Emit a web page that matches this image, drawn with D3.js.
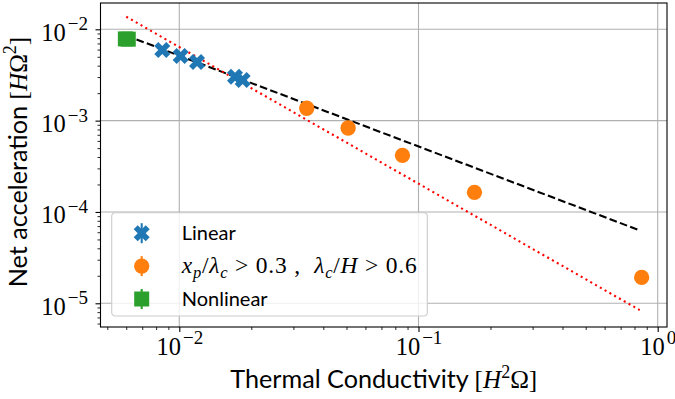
<!DOCTYPE html>
<html>
<head>
<meta charset="utf-8">
<script src="https://cdn.jsdelivr.net/npm/d3@7"></script>
<style>
  body { margin: 0; background: #fff; }
  svg { display: block; }
  .tick-label { font-family: 'Liberation Serif', serif; font-size: 24.5px; fill: #000; }
  .sans { font-family: Lato, 'Open Sans', sans-serif; }
  .rm { font-family: 'Liberation Serif', serif; }
  .it { font-family: 'Liberation Serif', serif; font-style: italic; }
  .axis-label { font-size: 25.2px; fill: #000; }
  .legend-text { font-size: 20px; fill: #000; }
  .legend-math { font-size: 23.5px; fill: #000; }
</style>
</head>
<body>
<div id="chart-area"><svg></svg></div>
<script>
const chartSize = {width: 675, height: 399};
const margin = {left: 100.5, right: 8, top: 3, bottom: 72};
const width = chartSize.width - margin.left - margin.right;
const height = chartSize.height - margin.top - margin.bottom;

// thermal conductivity [H^2 Omega] vs net acceleration [H Omega^2]
const linearK = [0.00849, 0.01013, 0.01186, 0.0171, 0.0184];
const linearAcc = [0.00593, 0.0051, 0.00439, 0.00303, 0.00279];
const criterionK = [0.0341, 0.0508, 0.0857, 0.1714, 0.857];
const criterionAcc = [0.001365, 0.00083, 0.000417, 0.000164, 0.0000192];
const nonlinearK = [0.00595, 0.00612];
const nonlinearAcc = [0.00785, 0.0078];

// fitted power laws (end points)
const fitK = [0.006, 0.833];
const fitAcc = [0.00855, 0.0000634];
const steepK = [0.006, 0.841];
const steepAcc = [0.01374, 0.00000843];

const xDomain = [0.004684, 1.0937];
const yDomain = [0.0000055, 0.01941];
const xTickPowers = [-2, -1, 0];
const yTickPowers = [-5, -4, -3, -2];

const colors = {linear: '#1f77b4', criterion: '#ff7f0e', nonlinear: '#2ca02c'};

const minorTicks = (domain) => {
  const ticks = [];
  for (let p = Math.floor(Math.log10(domain[0])); p <= Math.ceil(Math.log10(domain[1])); p++) {
    for (let k = 2; k <= 9; k++) {
      const v = k * Math.pow(10, p);
      if (v >= domain[0] && v <= domain[1]) ticks.push(v);
    }
  }
  return ticks;
};

const appendParts = (text, parts) => {
  let shift = 0;
  parts.forEach(([str, cls, offset = 0, size]) => {
    const span = text.append('tspan').attr('class', cls).attr('dy', offset - shift).text(str);
    if (size) span.style('font-size', size + 'px');
    shift = offset;
  });
};

const xMarker = d3.symbol().type(d3.symbolCross).size(160);
const circleMarker = d3.symbol().type(d3.symbolCircle).size(185);
const squareMarker = d3.symbol().type(d3.symbolSquare).size(225);

const drawChart = () => {
  const svg = d3.select('#chart-area svg')
      .attr('width', chartSize.width)
      .attr('height', chartSize.height);

  const x = d3.scaleLog().domain(xDomain).range([0, width]);
  const y = d3.scaleLog().domain(yDomain).range([height, 0]);

  const g = svg.append('g')
      .attr('transform', `translate(${margin.left},${margin.top})`);

  const xMajors = xTickPowers.map(p => Math.pow(10, p));
  const yMajors = yTickPowers.map(p => Math.pow(10, p));

  // grid
  g.append('g').selectAll('line')
      .data(xMajors)
      .join('line')
      .attr('x1', d => x(d)).attr('x2', d => x(d))
      .attr('y1', 0).attr('y2', height)
      .attr('stroke', '#b0b0b0').attr('stroke-width', 1.1);

  g.append('g').selectAll('line')
      .data(yMajors)
      .join('line')
      .attr('y1', d => y(d)).attr('y2', d => y(d))
      .attr('x1', 0).attr('x2', width)
      .attr('stroke', '#b0b0b0').attr('stroke-width', 1.1);

  // axes
  const xMajorAxis = d3.axisBottom(x).tickValues(xMajors).tickSize(5).tickSizeOuter(0);
  const xMinorAxis = d3.axisBottom(x).tickValues(minorTicks(xDomain)).tickSize(3).tickSizeOuter(0).tickFormat('');
  const yMajorAxis = d3.axisLeft(y).tickValues(yMajors).tickSize(5).tickSizeOuter(0);
  const yMinorAxis = d3.axisLeft(y).tickValues(minorTicks(yDomain)).tickSize(3).tickSizeOuter(0).tickFormat('');

  const gx = g.append('g').attr('transform', `translate(0,${height})`);
  gx.append('g').call(xMinorAxis).selectAll('line').attr('stroke-width', 0.85);
  gx.append('g').attr('class', 'x-major').call(xMajorAxis).selectAll('line').attr('stroke-width', 1.1);

  const gy = g.append('g');
  gy.append('g').call(yMinorAxis).selectAll('line').attr('stroke-width', 0.85);
  gy.append('g').attr('class', 'y-major').call(yMajorAxis).selectAll('line').attr('stroke-width', 1.1);

  g.selectAll('.domain').remove();

  const powerLabel = function (d) {
    const text = d3.select(this).attr('class', 'tick-label').attr('fill', null).text('');
    const p = Math.round(Math.log10(d));
    text.append('tspan').text('10');
    text.append('tspan').attr('dy', -10.5).attr('dx', 2).style('font-size', '19px')
        .text(p < 0 ? '\u2212' + Math.abs(p) : p);
  };

  gx.select('.x-major').selectAll('.tick text').each(powerLabel).attr('y', 27.5).attr('dy', null);
  gy.select('.y-major').selectAll('.tick text').each(powerLabel).attr('x', -12.5).attr('dy', '0.45em');

  // fit lines
  const line = d3.line().x(d => x(d[0])).y(d => y(d[1]));

  g.append('path')
      .attr('d', line(d3.zip(fitK, fitAcc)))
      .attr('fill', 'none').attr('stroke', '#000').attr('stroke-width', 2.08)
      .attr('stroke-dasharray', '7.7,3.3');

  g.append('path')
      .attr('d', line(d3.zip(steepK, steepAcc)))
      .attr('fill', 'none').attr('stroke', '#ff0000').attr('stroke-width', 2.08)
      .attr('stroke-dasharray', '2.08,3.43');

  // markers
  g.append('g').selectAll('path')
      .data(d3.zip(linearK, linearAcc))
      .join('path')
      .attr('d', xMarker)
      .attr('transform', d => `translate(${x(d[0])},${y(d[1])}) rotate(45)`)
      .attr('fill', colors.linear);

  g.append('g').selectAll('path')
      .data(d3.zip(criterionK, criterionAcc))
      .join('path')
      .attr('d', circleMarker)
      .attr('transform', d => `translate(${x(d[0])},${y(d[1])})`)
      .attr('fill', colors.criterion);

  g.append('g').selectAll('path')
      .data(d3.zip(nonlinearK, nonlinearAcc))
      .join('path')
      .attr('d', squareMarker)
      .attr('transform', d => `translate(${x(d[0])},${y(d[1])})`)
      .attr('fill', colors.nonlinear);

  // frame
  g.append('rect')
      .attr('width', width).attr('height', height)
      .attr('fill', 'none').attr('stroke', '#000').attr('stroke-width', 1.1);

  // legend
  const legend = g.append('g').attr('transform', 'translate(11.2,209.7)');
  legend.append('rect')
      .attr('width', 315.6).attr('height', 103.3).attr('rx', 3.5)
      .attr('fill', '#fff').attr('fill-opacity', 0.8)
      .attr('stroke', '#cccccc').attr('stroke-width', 1.1);

  const entries = [
    {marker: xMarker, rotate: 45, color: colors.linear, cls: 'legend-text', parts: [['Linear', 'sans']]},
    {marker: circleMarker, rotate: 0, color: colors.criterion, cls: 'legend-math', span: 235, parts: [
      ['x', 'it'], ['p', 'it', 4.5, 16.5], ['/', 'rm'], ['\u03bb', 'it'], ['c', 'it', 4.5, 16.5],
      ['\u2005>\u20050.3\u2005,\u2005\u2005', 'rm'], ['\u03bb', 'it'], ['c', 'it', 4.5, 16.5], ['/', 'rm'], ['H', 'it'],
      ['\u2005>\u20050.6', 'rm']]},
    {marker: squareMarker, rotate: 0, color: colors.nonlinear, cls: 'legend-text', parts: [['Nonlinear', 'sans']]}
  ];

  entries.forEach((entry, i) => {
    const row = legend.append('g').attr('transform', `translate(30,${20.5 + i * 32.9})`);
    row.append('line')
        .attr('y1', -10).attr('y2', 10)
        .attr('stroke', entry.color).attr('stroke-width', 2.08);
    row.append('path')
        .attr('d', entry.marker)
        .attr('transform', `rotate(${entry.rotate})`)
        .attr('fill', entry.color);
    const text = row.append('text')
        .attr('class', entry.cls)
        .attr('x', 40).attr('y', 7);
    appendParts(text, entry.parts);
    if (entry.span) text.attr('textLength', entry.span).attr('lengthAdjust', 'spacing');
  });

  // axis labels
  const xLabel = svg.append('text')
      .attr('class', 'axis-label')
      .attr('x', margin.left + width / 2).attr('y', 388.3)
      .attr('text-anchor', 'middle');
  appendParts(xLabel, [['Thermal Conductivity ', 'sans'], ['[', 'rm'], ['H', 'it'], ['2', 'rm', -10.5, 18],
    ['\u03a9', 'rm'], [']', 'rm']]);

  const yLabel = svg.append('text')
      .attr('class', 'axis-label')
      .attr('transform', 'translate(26.7,162) rotate(-90)')
      .attr('text-anchor', 'middle');
  appendParts(yLabel, [['Net acceleration ', 'sans'], ['[', 'rm'], ['H', 'it'], ['\u03a9', 'rm'],
    ['2', 'rm', -10.5, 18], [']', 'rm']]);
};

window.onload = drawChart;
</script>
</body>
</html>
